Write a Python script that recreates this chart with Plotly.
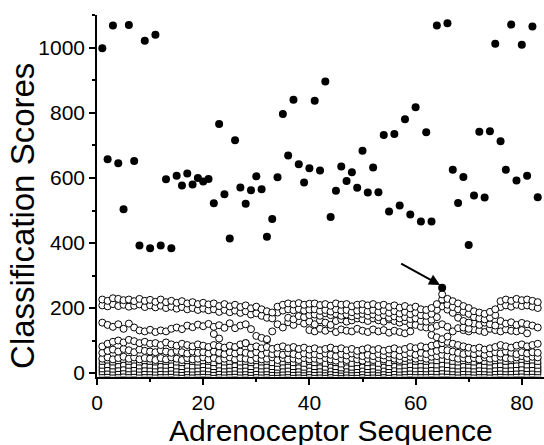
import plotly.graph_objects as go

seq = list(range(1, 84))

filled = [999, 658, 1069, 645, 504, 1071, 652, 392, 1022, 384,
          1041, 392, 596, 384, 607, 577, 614, 580, 600, 589,
          597, 522, 766, 550, 414, 716, 571, 521, 562, 605,
          565, 419, 474, 602, 797, 669, 841, 642, 586, 630,
          838, 623, 897, 480, 561, 635, 591, 618, 570, 684,
          555, 632, 556, 732, 497, 735, 515, 781, 488, 818,
          466, 741, 466, 1069, 262, 1076, 625, 523, 603, 394,
          546, 742, 540, 744, 1013, 713, 625, 1072, 592, 1010,
          607, 1066, 541]

top_a = [226, 222, 230, 228, 224, 226, 221, 228, 222, 225,
         219, 226, 218, 222, 216, 221, 214, 218, 212, 216,
         211, 214, 206, 212, 205, 210, 203, 208, 199, 204,
         196, 190, 186, 204, 210, 214, 211, 215, 210, 213,
         214, 209, 212, 207, 214, 210, 212, 205, 210, 212,
         208, 212, 206, 210, 203, 208, 201, 206, 199, 204,
         196, 194, 200, 212, 242, 228, 221, 214, 206, 200,
         190, 186, 182, 188, 196, 221, 226, 222, 228, 224,
         226, 222, 218]

top_b = [208, 205, 212, 206, 210, 204, 207, 211, 203, 208,
         202, 207, 200, 204, 198, 203, 196, 200, 194, 198,
         193, 196, 188, 194, 187, 192, 185, 190, 180, 184,
         176, 170, 168, 186, 192, 196, 193, 197, 192, 195,
         196, 191, 194, 189, 196, 192, 194, 187, 192, 194,
         190, 194, 188, 192, 185, 190, 183, 188, 181, 186,
         178, 176, 182, 194, 226, 210, 203, 196, 188, 182,
         172, 168, 165, 170, 178, 203, 208, 204, 210, 206,
         208, 204, 200]

mid_a = [155, 148, 142, 150, 136, 152, 140, 131, 128, 133,
         126, 131, 128, 136, 140, 135, 146, 141, 149, 144,
         151, 142, 147, 139, 153, 138, 146, 150, 135, 114,
         108, 104, 128, 150, 140, 156, 148, 160, 152, 158,
         150, 162, 155, 148, 160, 165, 158, 162, 168, 165,
         160, 168, 162, 158, 165, 160, 155, 160, 150, 148,
         142, 140, 138, 145, 150, 142, 128, 138, 140, 136,
         152, 148, 155, 150, 146, 160, 152, 156, 148, 154,
         150, 146, 140]

mid_b = [None] * 35 + [
         170, 165, 175, 172, 178,
         180, 176, 184, 178, 182, 176, 180, 174, 178, 182,
         176, 180, 172, 178, 170, 174, 168, 172, 166, 168,
         160, 158, 164, 172, 205, 195, 185, 170, 160, 155,
         None, None, None, None, None, None, None, None, None, None,
         None, None, None]

mid_c = [None] * 21 + [
         120, 106, None, None, None, None, 92, None, None,
         None, 101, None, None, None, None, None, None, None,
         132, 128, 136, 130, 138, 126, 134, 130, 128, 136,
         130, 126, 134, 128, 132, 124, 130, 126, 122, 128,
         None, None, None, 117, 110, 104, 112, None, None,
         132, 128, 134, 130, 126, 136, 132, 128, 134, 130,
         128, 132, 122]

low_a = [82, 90, 96, 100, 94, 102, 98, 92, 96, 90,
         92, 86, 94, 88, 84, 90, 86, 82, 88, 84,
         80, 86, 82, 78, 84, 80, 88, 92, 78, 82,
         76, 80, 74, 78, 82, 76, 80, 74, 78, 72,
         76, 70, 74, 78, 72, 76, 70, 74, 68, 72,
         76, 70, 74, 68, 72, 76, 70, 74, 80, 76,
         82, 78, 84, 88, 92, 96, 90, 86, 82, 78,
         74, 78, 72, 76, 80, 86, 82, 78, 84, 88,
         82, 86, 90]

low_b = [62, 68, 72, 66, 74, 70, 64, 72, 68, 66,
         64, 70, 66, 62, 68, 64, 60, 66, 62, 64,
         60, 66, 62, 58, 64, 60, 66, 62, 58, 64,
         56, 62, 58, 60, 56, 62, 58, 54, 60, 56,
         58, 54, 60, 56, 52, 58, 54, 60, 56, 52,
         56, 52, 58, 54, 60, 56, 52, 58, 62, 56,
         62, 58, 64, 68, 72, 70, 66, 62, 58, 62,
         58, 62, 56, 60, 64, 60, 66, 62, 58, 64,
         60, 64, 62]

low_c = [44, 48, 42, 46, 50, 44, 48, 42, 46, 44,
         40, 46, 42, 48, 44, 40, 46, 42, 44, 48,
         42, 46, 40, 44, 48, 42, 46, 44, 40, 46,
         42, 44, 48, 40, 46, 42, 44, 40, 46, 42,
         44, 40, 46, 42, 38, 44, 40, 46, 42, 38,
         44, 40, 46, 42, 48, 44, 40, 46, 50, 44,
         48, 44, 50, 52, 56, 52, 48, 44, 46, 42,
         46, 42, 48, 44, 46, 50, 46, 44, 48, 52,
         46, 50, 48]

sq_a = [36, 40, 34, 38, 42, 36, 40, 34, 38, 36,
        34, 38, 36, 40, 34, 32, 38, 36, 34, 38,
        36, 32, 38, 34, 36, 40, 34, 36, 32, 38,
        34, 36, 32, 30, 34, 36, 32, 34, 30, 36,
        32, 34, 30, 36, 32, 28, 34, 30, 32, 36,
        32, 34, 30, 36, 32, 38, 34, 36, 40, 36,
        38, 36, 40, 38, 42, 40, 36, 34, 38, 36,
        34, 38, 36, 34, 38, 40, 36, 38, 40, 42,
        38, 40, 36]

sq_b = [24, 26, 22, 25, 28, 24, 26, 22, 25, 24,
        22, 25, 24, 26, 22, 20, 24, 22, 24, 26,
        24, 20, 25, 22, 24, 26, 22, 24, 20, 25,
        22, 24, 20, 18, 22, 24, 20, 22, 18, 24,
        20, 22, 18, 24, 20, 16, 22, 18, 20, 24,
        20, 22, 18, 24, 20, 25, 22, 24, 26, 24,
        25, 24, 26, 25, 28, 26, 24, 22, 25, 24,
        22, 25, 24, 22, 25, 26, 24, 25, 26, 28,
        25, 26, 24]

sq_c = [13, 15, 12, 14, 16, 13, 15, 12, 14, 13,
        12, 14, 13, 15, 12, 11, 13, 12, 13, 15,
        13, 11, 14, 12, 13, 15, 12, 13, 11, 14,
        12, 13, 11, 10, 12, 13, 11, 12, 10, 13,
        11, 12, 10, 13, 11, 9, 12, 10, 11, 13,
        11, 12, 10, 13, 11, 14, 12, 13, 15, 13,
        14, 13, 15, 14, 16, 15, 13, 12, 14, 13,
        12, 14, 13, 12, 14, 15, 13, 14, 15, 16,
        14, 15, 13]

sq_d = [4, 5, 3, 4, 6, 4, 5, 3, 4, 4,
        3, 4, 4, 5, 3, 2, 4, 3, 4, 5,
        4, 2, 4, 3, 4, 5, 3, 4, 2, 4,
        3, 4, 2, 2, 3, 4, 2, 3, 2, 4,
        2, 3, 2, 4, 2, 1, 3, 2, 2, 4,
        2, 3, 2, 4, 2, 4, 3, 4, 5, 4,
        4, 4, 5, 4, 6, 5, 4, 3, 4, 4,
        3, 4, 4, 3, 4, 5, 4, 4, 5, 6,
        4, 5, 4]

sq_e = [-3, -2, -4, -3, -2, -3, -2, -4, -3, -3,
        -4, -3, -3, -2, -4, -5, -3, -4, -3, -2,
        -3, -5, -3, -4, -3, -2, -4, -3, -5, -3,
        -4, -3, -5, -5, -4, -3, -5, -4, -5, -3,
        -5, -4, -5, -3, -5, -6, -4, -5, -5, -3,
        -5, -4, -5, -3, -5, -3, -4, -3, -2, -3,
        -3, -3, -2, -3, -2, -2, -3, -4, -3, -3,
        -4, -3, -3, -4, -3, -2, -3, -3, -2, -2,
        -3, -2, -3]

fig = go.Figure()

for ys, col in [(sq_e, "#808080"), (sq_d, "black"), (sq_c, "black"),
                (sq_b, "black"), (sq_a, "black")]:
    fig.add_trace(go.Scatter(x=seq, y=ys, mode="markers",
                             marker=dict(symbol="square", size=6, color="white",
                                         line=dict(color=col, width=1)),
                             showlegend=False, hoverinfo="skip"))

circle_style = dict(symbol="circle", size=7, color="white",
                    line=dict(color="black", width=1))
for ys in [low_c, low_b, low_a, mid_c, mid_a, mid_b, top_b, top_a]:
    fig.add_trace(go.Scatter(x=seq, y=ys, mode="markers", marker=circle_style,
                             showlegend=False, hoverinfo="skip"))

fig.add_trace(go.Scatter(x=seq, y=filled, mode="markers",
                         marker=dict(symbol="circle", size=8, color="black",
                                     line=dict(width=0)),
                         showlegend=False))

fig.add_annotation(x=64.6, y=271, ax=57, ay=339, xref="x", yref="y",
                   axref="x", ayref="y", text="", showarrow=True,
                   arrowhead=2, arrowsize=1.1, arrowwidth=2,
                   arrowcolor="black", standoff=0)

fig.add_annotation(text="Classification Scores", xref="paper", yref="paper",
                   x=-0.1655, y=0.445, xanchor="center", yanchor="middle",
                   textangle=-90, showarrow=False,
                   font=dict(family="Liberation Sans, Arial", size=33, color="black"))
fig.add_annotation(text="Adrenoceptor Sequence", xref="paper", yref="paper",
                   x=0.5235, y=-0.147, xanchor="center", yanchor="middle",
                   showarrow=False,
                   font=dict(family="Liberation Sans, Arial", size=30, color="black"))

axis_common = dict(showline=True, linecolor="black", linewidth=1.5,
                   ticks="outside", ticklen=6, tickwidth=1.5, tickcolor="black",
                   showgrid=False, zeroline=False,
                   tickfont=dict(family="Liberation Sans, Arial", size=21, color="black"))

fig.update_xaxes(range=[0, 84.18], tickvals=[0, 20, 40, 60, 80],
                 minor=dict(tickvals=[10, 30, 50, 70], ticks="outside",
                            ticklen=3, tickwidth=1.5, tickcolor="black"),
                 **axis_common)
fig.update_yaxes(range=[-12.3, 1101.5], tickvals=[0, 200, 400, 600, 800, 1000],
                 minor=dict(tickvals=[100, 300, 500, 700, 900, 1100], ticks="outside",
                            ticklen=3, tickwidth=1.5, tickcolor="black"),
                 **axis_common)

fig.update_layout(width=544, height=445, margin=dict(l=97, r=0, t=15, b=68),
                  plot_bgcolor="white", paper_bgcolor="white",
                  font=dict(family="Liberation Sans, Arial", color="black"))

fig.write_html("out.html", config={"displayModeBar": False},
               post_script="document.body.style.margin='0px';"
                           "document.body.style.overflow='hidden';")
